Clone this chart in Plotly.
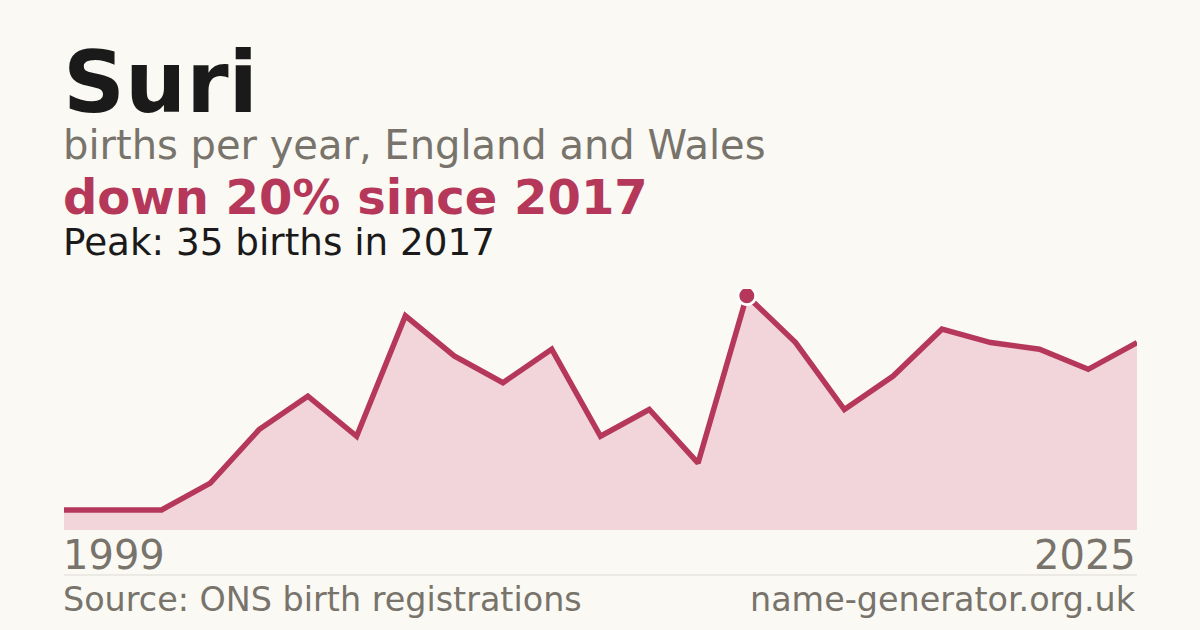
import plotly.graph_objects as go

# Births per year for the name Suri (England and Wales)
years = ['1999', '2004', '2005', '2006', '2007', '2008', '2009', '2010', '2011',
         '2012', '2013', '2014', '2015', '2016', '2017', '2018', '2019', '2020',
         '2021', '2022', '2023', '2024', '2025']
births = [3, 3, 3, 7, 15, 20, 14, 32, 26, 22, 27, 14, 18, 10, 35, 28, 18, 23,
          30, 28, 27, 24, 28]

peak_year = '2017'
peak_value = 35

red = '#b5385a'
grey = '#78736b'
bg = '#faf9f4'

fig = go.Figure()

# Filled area + line
fig.add_trace(go.Scatter(
    x=years, y=births,
    mode='lines',
    line=dict(color=red, width=5.5),
    fill='tozeroy',
    fillcolor='#f1d5db',
    hoverinfo='skip'
))

# Peak marker
fig.add_trace(go.Scatter(
    x=[peak_year], y=[peak_value],
    mode='markers',
    marker=dict(color=red, size=18, line=dict(color='white', width=3)),
    hoverinfo='skip'
))

fig.update_layout(
    width=1200, height=630,
    paper_bgcolor=bg, plot_bgcolor=bg,
    showlegend=False,
    margin=dict(l=64, r=63, t=289, b=100),
    xaxis=dict(type='category', range=[0, len(years) - 1], visible=False),
    yaxis=dict(range=[0, 36], visible=False),
    font=dict(family='DejaVu Sans'),
)

# Header texts
fig.add_annotation(text='<b>Suri</b>', x=0, xanchor='left', xshift=-3, y=1.858, yanchor='middle',
                   xref='paper', yref='paper', showarrow=False,
                   font=dict(size=86, color='#1a1a1a'))
fig.add_annotation(text='births per year, England and Wales', x=0, xanchor='left', xshift=-3,
                   y=1.598, yanchor='middle', xref='paper', yref='paper', showarrow=False,
                   font=dict(size=40, color=grey))
fig.add_annotation(text='<b>down 20% since 2017</b>', x=0, xanchor='left', xshift=-3,
                   y=1.382, yanchor='middle', xref='paper', yref='paper', showarrow=False,
                   font=dict(size=48, color=red))
fig.add_annotation(text=f'Peak: {peak_value} births in {peak_year}', x=0, xanchor='left',
                   xshift=-3, y=1.195, yanchor='middle', xref='paper', yref='paper',
                   showarrow=False, font=dict(size=37.3, color='#1a1a1a'))

# Year labels at the ends
fig.add_annotation(text=years[0], x=0, xanchor='left', xshift=-3, y=-0.105, yanchor='middle',
                   xref='paper', yref='paper', showarrow=False,
                   font=dict(size=40, color=grey))
fig.add_annotation(text=years[-1], x=1, xanchor='right', xshift=1, y=-0.105, yanchor='middle',
                   xref='paper', yref='paper', showarrow=False,
                   font=dict(size=40, color=grey))

# Separator line
fig.add_shape(type='line', xref='paper', yref='paper', x0=0, x1=1, y0=-0.1867, y1=-0.1867,
              line=dict(color='#dedbd4', width=1))

# Footer
fig.add_annotation(text='Source: ONS birth registrations', x=0, xanchor='left', xshift=-3,
                   y=-0.288, yanchor='middle', xref='paper', yref='paper', showarrow=False,
                   font=dict(size=33.4, color=grey))
fig.add_annotation(text='name-generator.org.uk', x=1, xanchor='right', xshift=1,
                   y=-0.288, yanchor='middle', xref='paper', yref='paper', showarrow=False,
                   font=dict(size=33.4, color=grey))

fig.write_html('out.html', config={'displayModeBar': False},
               post_script="document.body.style.margin='0';")
